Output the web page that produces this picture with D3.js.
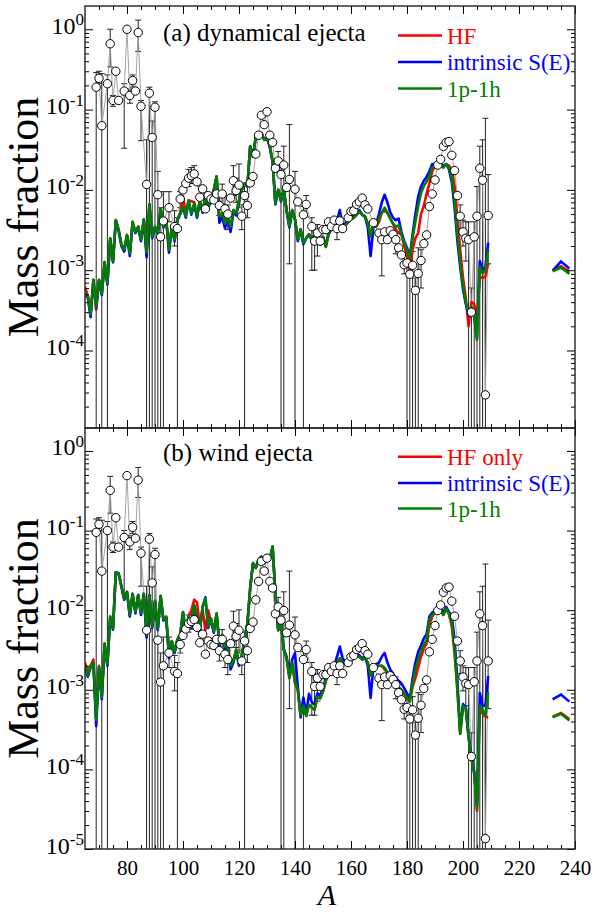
<!DOCTYPE html>
<html><head><meta charset="utf-8">
<script src="https://cdn.jsdelivr.net/npm/d3@7"></script>
<style>body{margin:0;background:#fff}svg{display:block}
svg text{font-family:"Liberation Serif","Times New Roman",serif !important;}</style>
</head><body><svg id="c" width="594" height="913"></svg>
<script>
// Mass numbers of model curves (A = 65 ... 209) and actinide segment
const massA = d3.range(65, 210);
const actA = [232, 235, 238];

// ---------- (a) dynamical ejecta : model curves ----------
const topHF = [
6.2e-4,4.8e-4,2.8e-4,7.6e-4,3.2e-4,7.6e-4,5.1e-4,1.26e-3,6.9e-4,2.5e-3,
1.3e-3,4.2e-3,3.2e-3,2.1e-3,1.8e-3,2.75e-3,1.6e-3,4.0e-3,3.0e-3,3.5e-3,
2.4e-3,4.3e-3,1.66e-3,6.6e-3,2.6e-3,3.5e-3,2.9e-3,5.9e-3,3.5e-3,4.3e-3,
1.8e-3,3.5e-3,2.4e-3,4.3e-3,5.1e-3,8.3e-3,5.0e-3,7.4e-3,7.2e-3,7.0e-3,
4.7e-3,7.4e-3,5.4e-3,8.3e-3,6.2e-3,7.4e-3,1.0e-2,1.48e-2,4.0e-3,5.1e-3,
3.8e-3,4.7e-3,3.2e-3,5.6e-3,5.1e-3,7.4e-3,1.0e-2,1.2e-2,1.1e-2,3.5e-2,
2.6e-2,4.6e-2,4.4e-2,5.1e-2,4.2e-2,4.4e-2,3.5e-2,2.3e-2,6.8e-3,1.0e-2,
7.4e-3,1.0e-2,5.6e-3,3.5e-3,5.6e-3,4.3e-3,2.4e-3,3.2e-3,2.2e-3,2.5e-3,
2.8e-3,2.4e-3,2.8e-3,2.5e-3,2.1e-3,2.6e-3,1.95e-3,2.8e-3,3.2e-3,3.5e-3,
3.8e-3,4.7e-3,3.5e-3,3.6e-3,4.0e-3,4.3e-3,4.5e-3,4.9e-3,5.4e-3,4.9e-3,
4.7e-3,3.8e-3,2.8e-3,3.8e-3,3.5e-3,4.0e-3,5.2e-3,5.5e-3,5.2e-3,4.4e-3,
3.8e-3,3.2e-3,2.9e-3,2.8e-3,2.0e-3,1.5e-3,1.0e-3,1.8e-3,2.5e-3,2.9e-3,
5.0e-3,6.3e-3,9.0e-3,1.2e-2,1.7e-2,2.0e-2,2.1e-2,2.1e-2,1.9e-2,2.1e-2,
2.0e-2,1.8e-2,1.1e-2,4.5e-3,1.8e-3,8.0e-4,4.5e-4,2.0e-4,4.0e-4,3.8e-4,
2.5e-4,8.3e-4,8.0e-4,8.3e-4,1.2e-3];
const topSE = [
5.0e-4,4.6e-4,2.6e-4,7.4e-4,3.4e-4,7.4e-4,4.9e-4,1.22e-3,6.6e-4,2.4e-3,
1.25e-3,4.1e-3,3.1e-3,2.0e-3,1.7e-3,2.7e-3,1.5e-3,3.9e-3,2.9e-3,3.4e-3,
2.3e-3,4.2e-3,1.45e-3,6.5e-3,2.5e-3,3.4e-3,2.8e-3,5.8e-3,3.4e-3,4.2e-3,
1.65e-3,3.4e-3,2.3e-3,4.2e-3,5.0e-3,6.0e-3,4.5e-3,7.2e-3,4.9e-3,6.6e-3,
4.5e-3,7.2e-3,5.2e-3,8.1e-3,6.0e-3,7.2e-3,9.8e-3,1.45e-2,3.9e-3,4.6e-3,
3.3e-3,4.4e-3,3.0e-3,5.3e-3,4.8e-3,7.2e-3,1.0e-2,1.2e-2,1.1e-2,3.5e-2,
2.6e-2,4.6e-2,4.4e-2,5.1e-2,4.2e-2,4.4e-2,3.4e-2,2.2e-2,6.6e-3,1.0e-2,
7.2e-3,1.0e-2,5.5e-3,3.4e-3,5.5e-3,4.3e-3,2.3e-3,3.2e-3,2.1e-3,2.5e-3,
2.8e-3,2.4e-3,2.8e-3,2.5e-3,2.1e-3,2.6e-3,2.0e-3,3.0e-3,3.3e-3,3.7e-3,
4.1e-3,5.6e-3,3.6e-3,3.8e-3,4.2e-3,4.5e-3,4.7e-3,5.1e-3,5.6e-3,4.9e-3,
4.6e-3,3.4e-3,1.5e-3,3.4e-3,3.8e-3,5.0e-3,7.0e-3,8.7e-3,7.0e-3,5.3e-3,
4.5e-3,4.2e-3,4.4e-3,3.0e-3,2.3e-3,1.9e-3,1.5e-3,2.8e-3,5.0e-3,8.3e-3,
1.1e-2,1.3e-2,1.45e-2,1.7e-2,2.1e-2,2.1e-2,2.2e-2,2.1e-2,2.0e-2,2.1e-2,
1.8e-2,1.25e-2,6.0e-3,2.3e-3,1.1e-3,5.8e-4,3.8e-4,2.7e-4,3.3e-4,2.6e-4,
1.4e-4,1.3e-3,1.0e-3,1.1e-3,2.2e-3];
const top1p1h = [
5.0e-4,4.8e-4,2.8e-4,7.6e-4,3.5e-4,7.6e-4,5.1e-4,1.26e-3,6.9e-4,2.5e-3,
1.3e-3,4.2e-3,3.2e-3,2.1e-3,1.8e-3,2.75e-3,1.6e-3,4.0e-3,3.0e-3,3.5e-3,
2.4e-3,4.3e-3,1.66e-3,6.6e-3,2.6e-3,3.5e-3,2.9e-3,5.9e-3,3.5e-3,4.3e-3,
1.8e-3,3.5e-3,2.4e-3,4.3e-3,5.1e-3,6.2e-3,4.7e-3,7.4e-3,5.1e-3,6.8e-3,
4.7e-3,7.4e-3,5.4e-3,8.3e-3,6.2e-3,7.4e-3,1.0e-2,1.48e-2,4.7e-3,5.1e-3,
3.8e-3,4.7e-3,3.5e-3,5.6e-3,5.1e-3,7.4e-3,1.0e-2,1.2e-2,1.1e-2,3.5e-2,
2.6e-2,4.6e-2,4.4e-2,5.1e-2,4.2e-2,4.4e-2,3.5e-2,2.3e-2,6.8e-3,1.0e-2,
7.4e-3,1.0e-2,5.6e-3,3.5e-3,5.6e-3,4.3e-3,2.4e-3,3.2e-3,2.2e-3,2.5e-3,
2.8e-3,2.4e-3,2.8e-3,2.5e-3,2.1e-3,2.6e-3,1.95e-3,2.8e-3,3.2e-3,3.5e-3,
3.8e-3,4.7e-3,3.5e-3,3.6e-3,4.0e-3,4.3e-3,4.5e-3,4.9e-3,5.4e-3,4.9e-3,
4.7e-3,3.8e-3,2.6e-3,3.8e-3,3.5e-3,4.4e-3,5.2e-3,6.0e-3,5.2e-3,4.4e-3,
3.8e-3,3.5e-3,3.6e-3,2.8e-3,2.2e-3,1.8e-3,1.4e-3,2.5e-3,4.0e-3,6.3e-3,
9.1e-3,1.12e-2,1.26e-2,1.48e-2,1.9e-2,2.0e-2,2.1e-2,2.1e-2,1.9e-2,2.1e-2,
1.9e-2,1.4e-2,7.1e-3,2.8e-3,1.26e-3,6.3e-4,4.0e-4,2.8e-4,3.5e-4,2.8e-4,
1.35e-4,1.1e-3,9.1e-4,1.0e-3,1.8e-3];
const topActHF = [9.9e-4, 1.12e-3, 9.6e-4];
const topActSE = [9.9e-4, 1.28e-3, 1.05e-3];
const topAct1p1h = [9.7e-4, 1.08e-3, 9.0e-4];

// ---------- (b) wind ejecta : model curves ----------
const botHF = [
2.2e-3,1.7e-3,2.0e-3,2.4e-3,4.4e-4,2.0e-3,8.3e-4,3.8e-3,2.1e-3,8.3e-3,
5.9e-3,3.0e-2,2.9e-2,2.0e-2,1.4e-2,1.7e-2,8.7e-3,1.6e-2,9.5e-3,1.55e-2,
9.1e-3,1.6e-2,4.9e-3,1.55e-2,6.2e-3,1.3e-2,5.9e-3,1.5e-2,7.6e-3,8.3e-3,
2.75e-3,4.1e-3,3.0e-3,4.3e-3,4.9e-3,9.5e-3,5.4e-3,8.3e-3,1.0e-2,1.35e-2,
1.25e-2,6.3e-3,1.0e-2,5.6e-3,1.0e-2,7.1e-3,5.4e-3,9.1e-3,3.8e-3,4.9e-3,
3.5e-3,3.6e-3,2.0e-3,2.3e-3,3.2e-3,2.1e-3,2.7e-3,4.3e-3,6.8e-3,1.9e-2,
3.9e-2,3.4e-2,4.3e-2,4.7e-2,3.9e-2,4.9e-2,4.5e-2,6.3e-2,1.6e-2,5.6e-3,
7.0e-3,3.2e-3,2.5e-3,1.4e-3,2.2e-3,1.2e-3,1.0e-3,4.8e-4,6.3e-4,4.7e-4,
6.5e-4,6.0e-4,5.6e-4,8.1e-4,7.8e-4,9.5e-4,1.3e-3,1.6e-3,1.8e-3,1.9e-3,
2.2e-3,2.4e-3,2.2e-3,2.1e-3,2.1e-3,2.5e-3,2.6e-3,2.75e-3,2.6e-3,2.4e-3,
2.5e-3,2.2e-3,1.6e-3,1.8e-3,1.95e-3,2.0e-3,2.0e-3,1.8e-3,1.66e-3,1.4e-3,
1.26e-3,1.15e-3,1.07e-3,1.0e-3,8.9e-4,7.9e-4,7.1e-4,1.1e-3,1.4e-3,1.9e-3,
2.6e-3,3.3e-3,3.8e-3,6.5e-3,8.3e-3,9.3e-3,9.5e-3,1.0e-2,8.7e-3,1.05e-2,
8.9e-3,6.3e-3,2.8e-3,1.0e-3,2.8e-4,6.3e-4,5.8e-4,2.5e-4,1.4e-4,8.9e-5,
3.0e-5,6.3e-4,5.0e-4,4.6e-4,4.5e-4];
const botSE = [
1.9e-3,1.45e-3,1.9e-3,2.1e-3,3.5e-4,1.9e-3,7.6e-4,3.6e-3,2.0e-3,8.1e-3,
5.7e-3,3.0e-2,2.9e-2,2.0e-2,1.35e-2,1.7e-2,8.3e-3,1.6e-2,9.1e-3,1.55e-2,
8.7e-3,1.6e-2,4.5e-3,1.55e-2,6.0e-3,1.3e-2,5.6e-3,1.5e-2,7.4e-3,8.1e-3,
2.5e-3,4.0e-3,2.9e-3,4.2e-3,4.8e-3,9.3e-3,5.2e-3,8.1e-3,6.0e-3,1.15e-2,
8.1e-3,5.4e-3,1.1e-2,1.45e-2,6.0e-3,7.7e-3,5.2e-3,9.0e-3,3.6e-3,4.7e-3,
3.3e-3,3.4e-3,1.8e-3,2.2e-3,3.1e-3,2.0e-3,2.6e-3,4.3e-3,6.8e-3,1.9e-2,
3.9e-2,3.4e-2,4.3e-2,4.7e-2,3.9e-2,4.9e-2,4.3e-2,6.3e-2,1.6e-2,5.6e-3,
7.0e-3,3.2e-3,2.6e-3,1.5e-3,2.4e-3,2.9e-3,1.1e-3,4.5e-4,8.0e-4,5.0e-4,
8.9e-4,7.0e-4,6.5e-4,9.0e-4,8.5e-4,1.05e-3,1.4e-3,1.7e-3,1.9e-3,2.0e-3,
2.6e-3,3.5e-3,2.5e-3,2.2e-3,2.2e-3,2.7e-3,2.7e-3,2.8e-3,2.7e-3,2.5e-3,
2.6e-3,2.0e-3,7.9e-4,1.9e-3,2.1e-3,2.2e-3,2.6e-3,2.9e-3,2.2e-3,1.8e-3,
1.6e-3,1.4e-3,1.3e-3,1.2e-3,1.05e-3,9.0e-4,7.6e-4,1.4e-3,2.2e-3,3.0e-3,
3.6e-3,4.4e-3,5.0e-3,8.3e-3,9.3e-3,9.8e-3,1.0e-2,1.05e-2,9.3e-3,1.1e-2,
9.5e-3,8.5e-3,4.2e-3,1.3e-3,3.0e-4,6.6e-4,6.0e-4,2.7e-4,1.5e-4,9.5e-5,
3.5e-5,9.1e-4,6.3e-4,6.3e-4,1.5e-3];
const bot1p1h = [
1.95e-3,1.5e-3,2.0e-3,2.2e-3,4.2e-4,1.95e-3,8.1e-4,3.8e-3,2.1e-3,8.3e-3,
5.9e-3,3.0e-2,2.9e-2,2.0e-2,1.4e-2,1.7e-2,8.7e-3,1.6e-2,9.5e-3,1.55e-2,
9.1e-3,1.6e-2,4.9e-3,1.55e-2,6.2e-3,1.3e-2,5.9e-3,1.5e-2,7.6e-3,8.3e-3,
2.75e-3,4.1e-3,3.0e-3,4.3e-3,4.9e-3,9.5e-3,5.4e-3,8.3e-3,6.2e-3,1.17e-2,
8.3e-3,5.6e-3,1.1e-2,1.4e-2,6.2e-3,7.9e-3,5.4e-3,9.1e-3,3.8e-3,4.9e-3,
3.5e-3,3.6e-3,2.0e-3,2.3e-3,3.2e-3,2.1e-3,2.7e-3,4.3e-3,6.8e-3,1.9e-2,
3.9e-2,3.4e-2,4.3e-2,4.7e-2,3.9e-2,4.9e-2,4.3e-2,6.3e-2,1.6e-2,5.6e-3,
7.0e-3,3.2e-3,2.5e-3,1.4e-3,2.2e-3,1.26e-3,1.0e-3,4.8e-4,6.3e-4,4.7e-4,
6.5e-4,6.0e-4,5.6e-4,8.1e-4,7.8e-4,9.5e-4,1.3e-3,1.6e-3,1.8e-3,1.9e-3,
2.2e-3,2.5e-3,2.2e-3,2.1e-3,2.1e-3,2.5e-3,2.6e-3,2.75e-3,2.6e-3,2.4e-3,
2.5e-3,2.2e-3,1.5e-3,1.8e-3,1.95e-3,2.0e-3,2.0e-3,1.9e-3,1.66e-3,1.4e-3,
1.26e-3,1.15e-3,1.07e-3,1.0e-3,8.9e-4,7.9e-4,7.1e-4,1.2e-3,1.8e-3,2.4e-3,
3.0e-3,3.7e-3,4.2e-3,7.6e-3,8.7e-3,9.3e-3,9.5e-3,1.0e-2,8.7e-3,1.05e-2,
8.9e-3,7.1e-3,3.2e-3,1.0e-3,2.8e-4,6.3e-4,5.8e-4,2.5e-4,1.4e-4,8.9e-5,
3.2e-5,6.3e-4,5.6e-4,4.7e-4,9.3e-4];
const botActHF = [4.6e-4, 5.1e-4, 4.3e-4];
const botActSE = [7.6e-4, 8.7e-4, 7.1e-4];
const botAct1p1h = [4.5e-4, 5.0e-4, 4.1e-4];

// ---------- observed (solar r-process) points ----------
const obsA = [69,70,71,73,74,75,76,77,79,80,81,82,83,84,85,87,88,89,90,91,92,93,95,97,98,99,
100,101,102,103,104,105,106,107,108,109,110,111,112,113,114,115,116,117,118,119,120,121,122,123,
124,125,126,127,128,129,130,131,132,133,134,135,136,137,138,140,141,143,144,146,147,148,149,150,
151,152,153,154,155,156,157,159,160,161,162,163,164,165,166,168,170,171,172,173,174,175,176,177,
178,179,180,181,182,183,184,185,186,187,188,189,190,191,192,193,194,195,196,197,198,199,200,201,
202,203,204,205,206,207,208,209];
const obsTop = [.19,.245,.063,.21,.66,.13,.30,.13,.17,1.0,.15,.23,.17,.91,.11,.0117,.16,.045,.107,.0087,.0026,.0041,.006,.0035,.0033,.0077,
.010,.012,.014,.015,.0158,.0126,.0081,.0103,.0058,.0085,.0077,.0075,.0089,.0064,.0089,.0058,.005,.0079,.013,.0098,.0115,.0047,.0085,.0064,
.0122,.0147,.028,.048,.085,.065,.094,.048,.039,.0186,.0229,.0155,.0204,.0107,.0135,.0102,.0071,.0049,.0066,.0035,.0023,.0029,.0023,.0032,
.0032,.004,.0035,.0042,.0033,.0041,.0033,.0045,.0054,.0055,.0066,.0071,.0079,.0065,.0058,.0039,.0029,.0024,.003,.0024,.0031,.0028,.0024,.0019,
.00155,.00117,.00123,.00089,.00115,.00056,.00091,.00132,.00214,.00275,.0062,.0089,.0133,.0204,.024,.0347,.039,.040,.027,.0174,.0085,.0047,.003,.0025,
.0024,.0003,.0026,.0047,.0186,.0132,.000028,.0048];
const obsBot = [.095,.12,.031,.10,.32,.062,.145,.062,.082,.49,.072,.11,.08,.43,.052,.0056,.078,.022,.05,.0042,.00125,.002,.0029,.0017,.0016,.0037,
.0048,.0058,.0068,.0072,.0076,.0061,.0039,.005,.0028,.0041,.0037,.0036,.0043,.0031,.0043,.0028,.0024,.0038,.0063,.0047,.0056,.0023,.0041,.0031,
.0059,.0071,.0135,.023,.041,.031,.045,.023,.019,.009,.011,.0075,.0099,.0052,.0065,.0049,.0034,.0024,.0032,.0017,.0011,.0014,.0011,.00155,
.00155,.0019,.0017,.002,.0016,.002,.0016,.0022,.0026,.0027,.0032,.0034,.0038,.0031,.0028,.0019,.0014,.00116,.00145,.00116,.0015,.00135,.00116,.00092,
.00075,.00057,.0006,.00043,.00056,.00027,.00044,.00064,.00104,.00133,.003,.0043,.0064,.0099,.0116,.0168,.019,.0195,.013,.0084,.0041,.0023,.00145,.0012,
.00116,.000145,.00126,.0023,.009,.0064,.0000135,.0023];

// error bars: upper end, lower end (0 = reaches the bottom of the frame)
const errA = [69,70,71,73,74,75,79,81,82,84,85,87,88,89,90,91,92,93,95,97,98,99,102,103,104,113,114,115,116,118,119,120,121,122,123,
134,135,136,138,140,143,144,146,147,148,155,171,176,179,180,181,182,183,184,185,199,200,201,202,203,204,205,206,207,208,209];
const errTopHi = [.29,.30,.28,.27,1.0,.15,.21,.18,.27,1.3,.13,.042,.19,.072,.125,.017,.006,.0095,.0095,.0055,.0045,.0095,.018,.019,.02,.0085,.0118,.0085,.0065,.02,.014,.021,.0065,.011,.0115,
.03,.02,.035,.065,.017,.0062,.0085,.0045,.003,.0037,.0042,.003,.003,.0016,.0016,.0013,.0017,.0008,.0019,.0018,.0065,.0042,.004,.004,.0006,.004,.011,.035,.042,.078,.0155];
const errTopLo = [0,.21,0,0,.34,.11,.033,.12,.19,.53,.041,0,0,0,0,0,0,0,.004,.002,0,.006,.011,.012,.012,.0048,.0068,.004,.0032,.0085,.007,.006,.0032,0,.0045,
.017,0,0,.0012,0,0,.0046,.001,.001,.0015,.0024,.00085,.0016,.0009,0,0,0,0,0,.0006,.0033,.002,.0013,0,0,0,0,0,0,0,.0012];
const errBotHi = [.14,.145,.135,.13,.48,.072,.10,.087,.13,.62,.062,.02,.092,.035,.06,.0082,.0029,.0046,.0046,.0027,.0022,.0046,.0087,.0092,.0097,.0041,.0057,.0041,.0031,.0097,.0068,.0101,.0031,.0053,.0056,
.0145,.0097,.017,.031,.0082,.003,.0041,.0022,.00145,.0018,.002,.00145,.00145,.00077,.00077,.00063,.00082,.00039,.00092,.00087,.0031,.002,.0019,.0019,.00029,.0019,.0053,.017,.02,.038,.0075];
const errBotLo = [0,.10,0,0,.165,.053,.016,.058,.092,.26,.02,0,0,0,0,0,0,0,.0019,.00097,0,.0029,.0053,.0058,.0058,.0023,.0033,.0019,.00155,.0041,.0034,.0029,.00155,0,.0022,
.0082,0,0,.00058,0,0,.0022,.00048,.00048,.00072,.00116,.00041,.00077,.00043,0,0,0,0,0,.00029,.0016,.00097,.00063,0,0,0,0,0,0,0,.00058];

// tick values
const xMajor = [80,100,120,140,160,180,200,220,240];
const xMinor = d3.range(70, 240, 5).filter(v => v % 20 !== 0);

const panels = [
  {top:6, bottom:428, yr:[430.8,5.1], major:[1e-4,1e-3,1e-2,1e-1,1],
   hf:topHF, se:topSE, ph:top1p1h, ahf:topActHF, ase:topActSE, aph:topAct1p1h,
   obs:obsTop, hi:errTopHi, lo:errTopLo, label:"(a) dynamical ejecta", labY:41,
   leg:["HF","intrinsic S(E)","1p-1h"], legY:[35.5,62,88.5], xlabels:false},
  {top:428, bottom:849, yr:[849,427], major:[1e-5,1e-4,1e-3,1e-2,1e-1,1],
   hf:botHF, se:botSE, ph:bot1p1h, ahf:botActHF, ase:botActSE, aph:botAct1p1h,
   obs:obsBot, hi:errBotHi, lo:errBotLo, label:"(b) wind ejecta", labY:461,
   leg:["HF only","intrinsic S(E)","1p-1h"], legY:[456.7,483,508.5], xlabels:true}
];
const colors = {hf:"#ff0000", se:"#0000ff", ph:"#008000"};
const FONT = "Liberation Serif";

const svg = d3.select("#c");
const x = d3.scaleLinear().domain([65,240]).range([85,575]);
const L = 85, R = 575;

panels.forEach((p, pi) => {
  const y = d3.scaleLog().domain([1e-5, 2]).range(p.yr);
  const clipId = "clip" + pi;
  svg.append("clipPath").attr("id", clipId).append("rect")
    .attr("x", L).attr("y", p.top).attr("width", R - L).attr("height", p.bottom - p.top);
  const g = svg.append("g").attr("clip-path", `url(#${clipId})`);

  // error bars
  errA.forEach((a, i) => {
    const hi = p.hi[i], lo = p.lo[i];
    const yTop = y(hi);
    const yBot = lo === 0 ? p.bottom : y(lo);
    const xx = x(a);
    g.append("line").attr("x1", xx).attr("x2", xx).attr("y1", yTop).attr("y2", yBot)
      .attr("stroke", "#222").attr("stroke-width", 1);
    g.append("line").attr("x1", xx - 3).attr("x2", xx + 3).attr("y1", yTop).attr("y2", yTop)
      .attr("stroke", "#222").attr("stroke-width", 1);
    if (lo !== 0) g.append("line").attr("x1", xx - 3).attr("x2", xx + 3).attr("y1", yBot).attr("y2", yBot)
      .attr("stroke", "#222").attr("stroke-width", 1);
  });

  // grey connecting line through observed points
  const obsPts = obsA.map((a, i) => [a, p.obs[i]]);
  const line = d3.line().x(d => x(d[0])).y(d => y(d[1]));
  g.append("path").datum(obsPts).attr("d", line).attr("fill", "none")
    .attr("stroke", "#9a9a9a").attr("stroke-width", 0.9);

  // model curves
  ["hf", "se", "ph"].forEach(k => {
    const pts = massA.map((a, i) => [a, p[k][i]]);
    g.append("path").datum(pts).attr("d", line).attr("fill", "none")
      .attr("stroke", colors[k]).attr("stroke-width", 2.6).attr("stroke-linejoin", "round");
    const apts = actA.map((a, i) => [a, p["a" + k][i]]);
    g.append("path").datum(apts).attr("d", line).attr("fill", "none")
      .attr("stroke", colors[k]).attr("stroke-width", 2.6);
  });

  // observed circles
  g.selectAll("circle.obs").data(obsPts).join("circle").attr("class", "obs")
    .attr("cx", d => x(d[0])).attr("cy", d => y(d[1])).attr("r", 4.2)
    .attr("fill", "#fff").attr("stroke", "#000").attr("stroke-width", 1);

  // axes (ticks inward)
  const minor = [];
  for (let e = -5; e <= -1; e++) for (let k = 2; k <= 9; k++) minor.push(k * Math.pow(10, e));
  const style = sel => { sel.select(".domain").remove(); sel.selectAll(".tick line").attr("stroke", "#000"); };

  const gl = svg.append("g").attr("transform", `translate(${L},0)`)
    .call(d3.axisLeft(y).tickValues(p.major).tickSize(-8).tickPadding(2).tickFormat(() => ""));
  style(gl);
  gl.attr("font-family", FONT).attr("font-size", 24);
  gl.selectAll(".tick text").each(function(d) {
    const t = d3.select(this);
    t.attr("dy", null).attr("y", 4).attr("fill", "#000").attr("x", -1);
    t.append("tspan").text("10");
    t.append("tspan").attr("dy", -8.5).attr("font-size", 17).text(String(Math.round(Math.log10(d))));
  });
  svg.append("g").attr("transform", `translate(${L},0)`)
    .call(d3.axisLeft(y).tickValues(minor).tickSize(-4).tickFormat(() => "")).call(style);
  svg.append("g").attr("transform", `translate(${R},0)`)
    .call(d3.axisRight(y).tickValues(p.major).tickSize(-8).tickFormat(() => "")).call(style);
  svg.append("g").attr("transform", `translate(${R},0)`)
    .call(d3.axisRight(y).tickValues(minor).tickSize(-4).tickFormat(() => "")).call(style);

  svg.append("g").attr("transform", `translate(0,${p.top})`)
    .call(d3.axisTop(x).tickValues(xMajor).tickSize(-8).tickFormat(() => "")).call(style);
  svg.append("g").attr("transform", `translate(0,${p.top})`)
    .call(d3.axisTop(x).tickValues(xMinor).tickSize(-4).tickFormat(() => "")).call(style);
  const gb = svg.append("g").attr("transform", `translate(0,${p.bottom})`)
    .call(d3.axisBottom(x).tickValues(xMajor).tickSize(-8).tickPadding(11)
      .tickFormat(p.xlabels ? d3.format("d") : () => ""));
  style(gb);
  gb.attr("font-family", FONT).attr("font-size", 21);
  gb.selectAll(".tick text").attr("fill", "#000");
  svg.append("g").attr("transform", `translate(0,${p.bottom})`)
    .call(d3.axisBottom(x).tickValues(xMinor).tickSize(-4).tickFormat(() => "")).call(style);

  // frame
  svg.append("rect").attr("x", L).attr("y", p.top).attr("width", R - L).attr("height", p.bottom - p.top)
    .attr("fill", "none").attr("stroke", "#222").attr("stroke-width", 1.4);

  // panel label
  svg.append("text").attr("x", 163).attr("y", p.labY).attr("font-family", FONT)
    .attr("font-size", 25).attr("fill", "#000").text(p.label);

  // legend
  ["hf", "se", "ph"].forEach((k, i) => {
    const ly = p.legY[i];
    svg.append("line").attr("x1", 398).attr("x2", 442).attr("y1", ly).attr("y2", ly)
      .attr("stroke", colors[k]).attr("stroke-width", 2.6);
    svg.append("text").attr("x", 447).attr("y", ly + 8.3).attr("font-family", FONT)
      .attr("font-size", 23).attr("fill", colors[k]).text(p.leg[i]);
  });

  // y axis title
  const cy = (p.top + p.bottom) / 2;
  svg.append("text").attr("transform", `translate(38,${cy}) rotate(-90)`)
    .attr("text-anchor", "middle").attr("font-family", FONT).attr("font-size", 44)
    .attr("fill", "#000").text("Mass fraction");
});

// x axis title
svg.append("text").attr("x", 327).attr("y", 905).attr("text-anchor", "middle")
  .attr("font-family", FONT).attr("font-style", "italic").attr("font-size", 30)
  .attr("fill", "#000").text("A");
</script>
</body></html>
